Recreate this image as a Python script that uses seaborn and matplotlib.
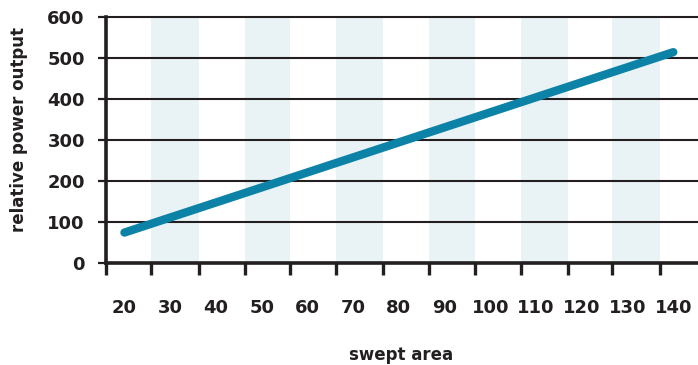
import matplotlib
matplotlib.use("Agg")
import matplotlib.pyplot as plt
import seaborn as sns
import pandas as pd

# data
swept_area = [20, 140]
relative_power = [75, 515]
x_labels = [20, 30, 40, 50, 60, 70, 80, 90, 100, 110, 120, 130, 140]
x_tick_marks = [15.9, 25.8, 36.4, 46.4, 56.3, 66.2, 76.6, 86.6, 96.7, 106.6, 116.9, 126.5, 137.2]
y_ticks = [0, 100, 200, 300, 400, 500, 600]

sns.set_style("white")
plt.rcParams['font.family'] = ['DejaVu Sans']

ink = "#231f20"
line_col = "#0b82a6"
band_col = "#e9f3f6"

fig = plt.figure(figsize=(6.98, 3.65), dpi=100)
ax = fig.add_axes([105.7 / 698, 1 - 263.3 / 365, 1 - 105.7 / 698, (263.3 - 17.3) / 365])

df = pd.DataFrame({"swept area": swept_area, "relative power output": relative_power})

# alternating light bands between tick marks
for i in range(1, len(x_tick_marks) - 1, 2):
    ax.axvspan(x_tick_marks[i], x_tick_marks[i + 1], color=band_col, lw=0, zorder=0)

# horizontal grid lines
for yv in y_ticks[1:]:
    ax.axhline(yv, color=ink, lw=1.5, zorder=1, clip_on=False)

sns.lineplot(data=df, x="swept area", y="relative power output", ax=ax,
             color=line_col, lw=6, solid_capstyle="round", zorder=3)

ax.set_xlim(15.9, 145.4)
ax.set_ylim(0, 600)

ax.set_xticks(x_labels)
ax.set_xticklabels([str(v) for v in x_labels])
ax.set_xticks(x_tick_marks, minor=True)
ax.tick_params(axis="x", which="major", length=0, pad=25.5, labelsize=13, labelcolor=ink)
ax.tick_params(axis="x", which="minor", length=8.5, width=2.4, color=ink, direction="out", bottom=True)
ax.set_yticks(y_ticks)
ax.tick_params(axis="y", which="major", length=6, width=1.6, color=ink, direction="out",
               pad=9, labelsize=13, labelcolor=ink, left=True)
for lab in ax.get_xticklabels() + ax.get_yticklabels():
    lab.set_fontweight("bold")

for s in ["top", "right"]:
    ax.spines[s].set_visible(False)
for s in ["left", "bottom"]:
    ax.spines[s].set_color(ink)
    ax.spines[s].set_linewidth(2.6)
    ax.spines[s].set_zorder(4)

W = 698 - 105.7
H = 263.3 - 17.3
ax.set_xlabel("swept area", fontsize=12, fontweight="bold", color=ink)
ax.set_ylabel("relative power output", fontsize=12, fontweight="bold", color=ink)
ax.xaxis.set_label_coords((400.8 - 105.7) / W, -(346 - 263.3) / H)
ax.yaxis.set_label_coords(-(105.7 - 28) / W, (263.3 - 129) / H)

fig.savefig("out.png", dpi=100)
